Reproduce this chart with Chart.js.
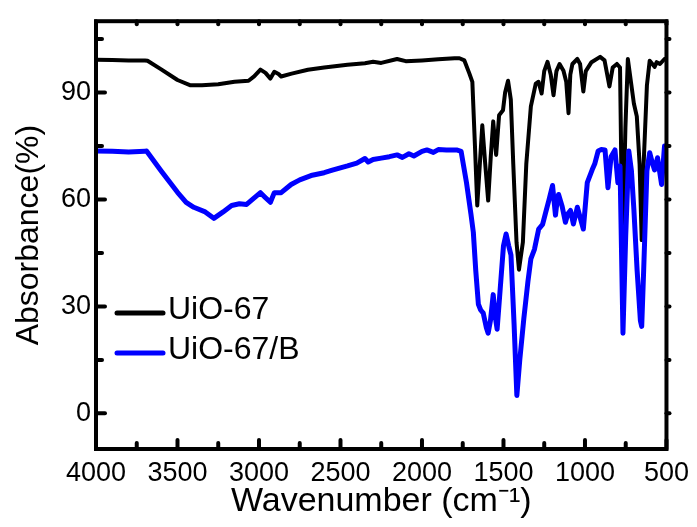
<!DOCTYPE html>
<html>
<head>
<meta charset="utf-8">
<title>FTIR UiO-67</title>
<script src="https://cdn.jsdelivr.net/npm/chart.js@4.4.0/dist/chart.umd.min.js"></script>
<style>
  html, body { margin: 0; padding: 0; background: #fff; }
  #wrap { width: 697px; height: 527px; }
</style>
</head>
<body>
<div id="wrap"><canvas id="ftirChart" width="697" height="527"></canvas></div>
<script>
// UiO-67 spectrum
const uio67Wn = [4000, 3900, 3800, 3700, 3684, 3600, 3500, 3420, 3350, 3250, 3150, 3064, 3030, 2991, 2960, 2930, 2906, 2880, 2864, 2800, 2700, 2600, 2457, 2350, 2300, 2250, 2153, 2100, 2000, 1900, 1800, 1770, 1740, 1709, 1691, 1675, 1661, 1645, 1630, 1612, 1594, 1578, 1563, 1545, 1527, 1503, 1490, 1472, 1455, 1440, 1420, 1405, 1381, 1360, 1332, 1302, 1285, 1266, 1250, 1230, 1210, 1193, 1175, 1156, 1132, 1115, 1101, 1090, 1077, 1047, 1030, 1010, 995, 960, 907, 880, 850, 830, 804, 785, 770, 752, 737, 700, 682, 665, 652, 640, 620, 603, 573, 560, 540, 512, 500];
const uio67Abs = [99.2, 99.1, 99.0, 99.0, 98.9, 96.5, 93.5, 92.0, 92.0, 92.3, 93.0, 93.3, 94.5, 96.4, 95.5, 93.9, 95.8, 95.2, 94.5, 95.3, 96.4, 97.0, 97.8, 98.2, 98.6, 98.3, 99.4, 98.8, 99.0, 99.3, 99.6, 99.6, 99.0, 95.3, 93.0, 75.0, 58.3, 70.0, 80.8, 70.0, 59.7, 72.0, 81.9, 72.5, 83.6, 85.0, 90.0, 93.3, 88.0, 70.0, 48.0, 40.3, 48.0, 70.0, 86.1, 92.5, 93.0, 89.7, 96.0, 98.6, 95.0, 89.2, 96.0, 98.0, 96.1, 93.0, 84.2, 95.0, 98.0, 99.4, 98.0, 90.3, 96.0, 98.5, 100.0, 99.0, 91.7, 97.0, 98.0, 97.0, 45.0, 80.0, 99.4, 86.9, 83.3, 70.0, 48.6, 70.0, 92.0, 98.9, 97.2, 98.5, 98.0, 99.4, 99.5];

// UiO-67/B spectrum
const uio67bWn = [4000, 3900, 3800, 3700, 3690, 3600, 3500, 3447, 3400, 3330, 3277, 3220, 3168, 3120, 3076, 3040, 2991, 2960, 2930, 2906, 2864, 2803, 2750, 2681, 2600, 2550, 2457, 2400, 2350, 2330, 2300, 2250, 2200, 2153, 2120, 2080, 2050, 2000, 1970, 1930, 1900, 1850, 1788, 1760, 1727, 1700, 1685, 1670, 1654, 1640, 1624, 1605, 1594, 1580, 1563, 1550, 1539, 1520, 1500, 1484, 1468, 1454, 1435, 1418, 1400, 1375, 1350, 1332, 1310, 1284, 1260, 1241, 1220, 1199, 1181, 1170, 1162, 1140, 1120, 1105, 1089, 1071, 1047, 1030, 1010, 986, 956, 940, 919, 900, 877, 859, 840, 816, 798, 785, 767, 750, 731, 715, 700, 680, 660, 652, 640, 620, 603, 585, 573, 555, 530, 512, 500];
const uio67bAbs = [73.6, 73.5, 73.3, 73.5, 73.6, 68.0, 62.0, 59.2, 57.8, 56.5, 54.7, 56.5, 58.3, 58.8, 58.6, 60.0, 61.9, 60.5, 59.2, 61.9, 61.9, 64.2, 65.5, 66.7, 67.5, 68.2, 69.4, 70.2, 71.5, 70.5, 71.2, 71.6, 72.0, 72.5, 71.8, 72.8, 72.2, 73.5, 73.9, 73.2, 74.0, 73.9, 73.9, 73.5, 64.7, 56.0, 50.8, 40.0, 30.6, 29.0, 28.1, 24.0, 22.5, 26.0, 33.3, 27.0, 23.6, 35.0, 47.0, 50.3, 47.0, 44.4, 25.0, 5.0, 15.0, 26.7, 37.0, 43.3, 46.0, 51.7, 53.0, 56.4, 60.0, 63.9, 55.6, 60.0, 61.4, 58.0, 53.6, 56.0, 56.9, 53.1, 57.8, 55.0, 51.7, 64.7, 68.3, 70.0, 73.6, 74.0, 73.9, 63.3, 72.0, 73.9, 64.7, 69.4, 22.5, 50.0, 73.6, 68.0, 57.2, 40.0, 26.0, 24.4, 40.0, 68.0, 73.1, 70.0, 68.3, 71.7, 64.2, 75.0, 74.5];

const seriesLabels = ['UiO-67', 'UiO-67/B'];
const xMajorTicks = [4000, 3500, 3000, 2500, 2000, 1500, 1000, 500];
const yMajorTicks = [0, 30, 60, 90];

const toPoints = (wn, abs) => wn.map((w, i) => ({ x: w, y: abs[i] }));

const fontFamily = "'Liberation Sans', Arial, sans-serif";

// frame box with ticks on every side
const framePlugin = {
  id: 'frame',
  afterDraw(chart) {
    const { ctx, chartArea: a, scales } = chart;
    const xs = scales.x, ys = scales.y;
    ctx.save();
    ctx.strokeStyle = '#000';
    ctx.lineCap = 'round';
    ctx.lineWidth = 4;
    for (let v = 500; v <= 4000; v += 250) {
      const px = xs.getPixelForValue(v);
      const len = v % 500 === 0 ? 9 : 6;
      ctx.beginPath();
      ctx.moveTo(px, a.bottom);
      ctx.lineTo(px, a.bottom - len);
      ctx.stroke();
      ctx.beginPath();
      ctx.moveTo(px, a.top);
      ctx.lineTo(px, a.top + 3);
      ctx.stroke();
    }
    for (let v = 0; v <= 105; v += 15) {
      const py = ys.getPixelForValue(v);
      const len = v % 30 === 0 ? 9 : 6;
      ctx.beginPath();
      ctx.moveTo(a.left, py);
      ctx.lineTo(a.left + len, py);
      ctx.stroke();
      ctx.beginPath();
      ctx.moveTo(a.right, py);
      ctx.lineTo(a.right + 3, py);
      ctx.stroke();
    }
    ctx.lineCap = 'square';
    ctx.lineWidth = 4;
    ctx.strokeRect(a.left, a.top, a.right - a.left, a.bottom - a.top);
    ctx.restore();
  }
};

// legend placed inside the plot, left side
const sideLegend = {
  id: 'sideLegend',
  afterDraw(chart, args, opts) {
    const { ctx } = chart;
    ctx.save();
    ctx.font = opts.fontSize + 'px ' + fontFamily;
    ctx.textBaseline = 'middle';
    ctx.fillStyle = '#000';
    chart.data.datasets.forEach((ds, i) => {
      const y = opts.y + i * opts.rowGap;
      ctx.strokeStyle = ds.borderColor;
      ctx.lineWidth = 5;
      ctx.lineCap = 'round';
      ctx.beginPath();
      ctx.moveTo(opts.x, y + 3);
      ctx.lineTo(opts.x + opts.lineLen, y + 3);
      ctx.stroke();
      ctx.fillText(ds.label, opts.x + opts.lineLen + 5, y);
    });
    ctx.restore();
  }
};

const ctx = document.getElementById('ftirChart').getContext('2d');
const ftirChart = new Chart(ctx, {
  type: 'line',
  data: {
    datasets: [
      {
        label: seriesLabels[0],
        data: toPoints(uio67Wn, uio67Abs),
        borderColor: '#000000',
        borderWidth: 4,
        order: 1
      },
      {
        label: seriesLabels[1],
        data: toPoints(uio67bWn, uio67bAbs),
        borderColor: '#0000ff',
        borderWidth: 5,
        order: 0
      }
    ]
  },
  options: {
    responsive: false,
    animation: false,
    devicePixelRatio: 1,
    elements: {
      point: { radius: 0 },
      line: { tension: 0, borderJoinStyle: 'round', borderCapStyle: 'round' }
    },
    layout: { padding: { top: 16, right: 25, left: 0, bottom: 0 } },
    plugins: {
      legend: { display: false },
      tooltip: { enabled: false },
      sideLegend: { x: 117, y: 310, rowGap: 40, lineLen: 46, fontSize: 32 }
    },
    scales: {
      x: {
        type: 'linear',
        min: 500,
        max: 4000,
        reverse: true,
        afterBuildTicks: s => { s.ticks = xMajorTicks.map(v => ({ value: v })); },
        afterFit: s => { s.height = 78; },
        grid: { display: false, drawTicks: false },
        border: { display: false },
        ticks: {
          color: '#000',
          padding: 8,
          maxRotation: 0,
          callback: v => String(v),
          font: { family: fontFamily, size: 27 }
        },
        title: {
          display: true,
          text: 'Wavenumber (cm⁻¹)',
          color: '#000',
          padding: { top: 0, bottom: 5 },
          font: { family: fontFamily, size: 34 }
        }
      },
      y: {
        min: -10,
        max: 110,
        afterBuildTicks: s => { s.ticks = yMajorTicks.map(v => ({ value: v })); },
        afterFit: s => { s.width = 96; },
        grid: { display: false, drawTicks: false },
        border: { display: false },
        ticks: {
          color: '#000',
          padding: 5,
          callback: v => String(v),
          font: { family: fontFamily, size: 27 }
        },
        title: {
          display: true,
          text: 'Absorbance(%)',
          color: '#000',
          padding: { top: 10, bottom: 0 },
          font: { family: fontFamily, size: 32 }
        }
      }
    }
  },
  plugins: [framePlugin, sideLegend]
});
</script>
</body>
</html>
